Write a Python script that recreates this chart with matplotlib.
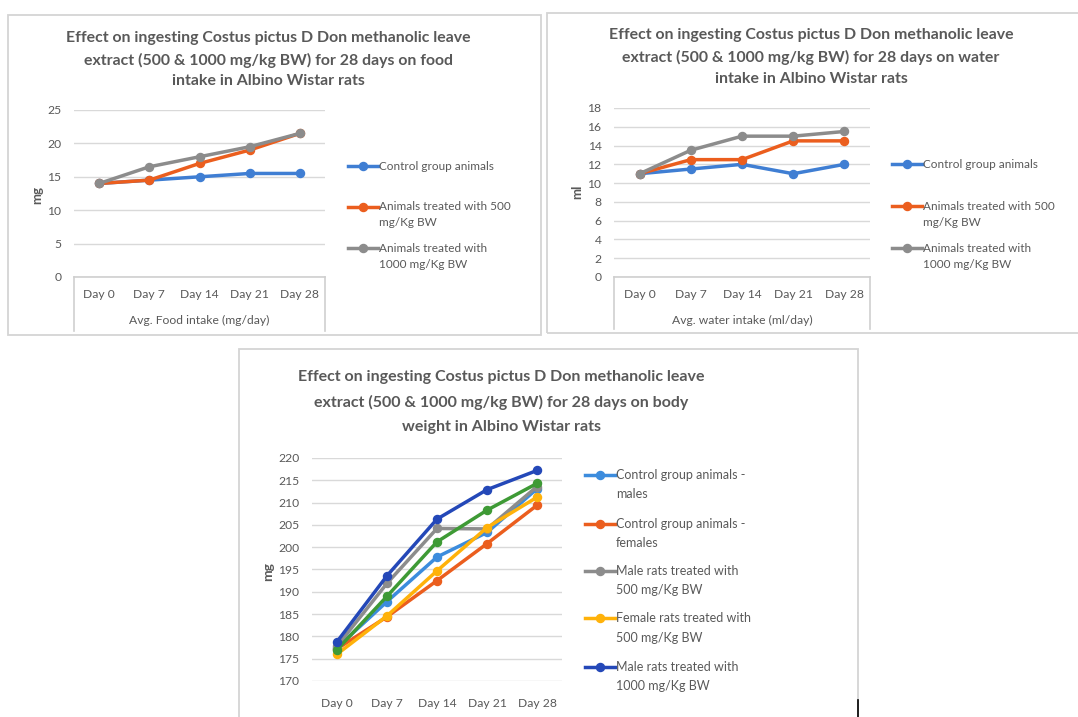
import matplotlib
matplotlib.use("Agg")
import matplotlib.pyplot as plt
from matplotlib.lines import Line2D
from matplotlib.patches import Rectangle

plt.rcParams['font.family'] = ['Lato', 'DejaVu Sans']

W, H = 1078, 717
TXT = '#595959'
GRID = '#D9D9D9'

days = ['Day 0', 'Day 7', 'Day 14', 'Day 21', 'Day 28']

# Average food intake (mg/day)
food_control = [14, 14.5, 15, 15.5, 15.5]
food_500 = [14, 14.5, 17, 19, 21.5]
food_1000 = [14, 16.5, 18, 19.5, 21.5]
food_ticks = [0, 5, 10, 15, 20, 25]

# Average water intake (ml/day)
water_control = [11, 11.5, 12, 11, 12]
water_500 = [11, 12.5, 12.5, 14.5, 14.5]
water_1000 = [11, 13.5, 15, 15, 15.5]
water_ticks = [0, 2, 4, 6, 8, 10, 12, 14, 16, 18]

# Body weight
bw_control_m = [177.5, 187.8, 197.8, 203.3, 213.1]
bw_control_f = [177.2, 184.4, 192.5, 200.8, 209.4]
bw_500_m = [177.8, 191.9, 204.2, 204.1, 213.6]
bw_500_f = [176.0, 184.6, 194.7, 204.4, 211.2]
bw_1000_m = [178.8, 193.6, 206.3, 212.9, 217.2]
bw_1000_f = [177.0, 189.0, 201.2, 208.3, 214.3]
bw_ticks = [170, 175, 180, 185, 190, 195, 200, 205, 210, 215, 220]

top_legend = ['Control group animals',
              'Animals treated with 500\nmg/Kg BW',
              'Animals treated with\n1000 mg/Kg BW']
bw_legend = ['Control group animals -\nmales',
             'Control group animals -\nfemales',
             'Male rats treated with\n500 mg/Kg BW',
             'Female rats treated with\n500 mg/Kg BW',
             'Male rats treated with\n1000 mg/Kg BW']

C_BLUE = '#3F7ED3'
C_ORANGE = '#EB5E1E'
C_GRAY = '#8C8C8C'
C_LBLUE = '#3C8CDD'
C_YELLOW = '#FFB20A'
C_DBLUE = '#2448B8'
C_GREEN = '#3E9A35'

fig = plt.figure(figsize=(W / 100, H / 100), dpi=100)
fig.patch.set_facecolor('white')


def fx(x):
    return x / W


def fy(y):
    return 1 - y / H


def frame(x0, y0, x1, y1):
    fig.add_artist(Rectangle((fx(x0), fy(y1)), fx(x1 - x0), y1 / H - y0 / H,
                             transform=fig.transFigure, fill=False,
                             edgecolor='#D4D4D4', linewidth=1.3, zorder=0))


def fline(xs, ys, **kw):
    fig.add_artist(Line2D([fx(v) for v in xs], [fy(v) for v in ys],
                          transform=fig.transFigure, **kw))


def title(lines, cx, ys, size):
    for s, y in zip(lines, ys):
        fig.text(fx(cx), fy(y), s, ha='center', va='center', fontsize=size,
                 fontweight='bold', color=TXT)


def make_axes(x0, y0, x1, y1, ymin, ymax, ticks):
    ax = fig.add_axes([fx(x0), fy(y1), fx(x1 - x0), (y1 - y0) / H])
    ax.set_xlim(-0.5, len(days) - 0.5)
    ax.set_ylim(ymin, ymax)
    ax.set_yticks(ticks)
    ax.set_xticks(range(len(days)))
    ax.set_xticklabels(days)
    for sp in ax.spines.values():
        sp.set_visible(False)
    ax.grid(axis='y', color=GRID, linewidth=1)
    ax.set_axisbelow(True)
    ax.tick_params(axis='both', length=0, labelsize=8.7, colors=TXT)
    ax.tick_params(axis='y', pad=9)
    ax.patch.set_alpha(0)
    return ax


def series(ax, vals, color, lw=2.5, ms=5.8):
    ax.plot(range(len(days)), vals, color=color, linewidth=lw, marker='o',
            markersize=ms, solid_capstyle='round', clip_on=False)


def legend(x0, x1, tx, entries, size=8.5, lw=2.5):
    for label, color, ys in entries:
        fline([x0, x1], [ys[0], ys[0]], color=color, linewidth=lw)
        fline([(x0 + x1) / 2], [ys[0]], color=color, marker='o',
              markersize=5.8, linestyle='none')
        for s, y in zip(label.split('\n'), ys):
            fig.text(fx(tx), fy(y), s, ha='left', va='center',
                     fontsize=size, color=TXT)


# ---------------- food intake ----------------
frame(8, 15, 541, 335)
title(['Effect on ingesting Costus pictus D Don methanolic leave',
       'extract (500 & 1000 mg/kg BW) for 28 days on food',
       'intake in Albino Wistar rats'], 268, [38, 60, 81], 11.4)
ax1 = make_axes(74, 110, 325, 277, 0, 25, food_ticks)
ax1.tick_params(axis='x', pad=9)
series(ax1, food_control, C_BLUE)
series(ax1, food_500, C_ORANGE)
series(ax1, food_1000, C_GRAY)
fline([74, 325], [277, 277], color='#CFCFCF', linewidth=1.2)
fline([74, 74], [277, 331], color='#CFCFCF', linewidth=1.2)
fline([325, 325], [277, 331], color='#CFCFCF', linewidth=1.2)
fig.text(fx(199), fy(320), 'Avg. Food intake (mg/day)', ha='center',
         va='center', fontsize=8.7, color=TXT)
fig.text(fx(37), fy(195), 'mg', rotation=90, ha='center', va='center',
         fontsize=9.5, fontweight='bold', color=TXT)
legend(348, 378, 379, [
    (top_legend[0], C_BLUE, [166]),
    (top_legend[1], C_ORANGE, [207, 223]),
    (top_legend[2], C_GRAY, [248, 265]),
])

# ---------------- water intake ----------------
frame(547, 13, 1090, 333)
title(['Effect on ingesting Costus pictus D Don methanolic leave',
       'extract (500 & 1000 mg/kg BW) for 28 days on water',
       'intake in Albino Wistar rats'], 811, [35, 57, 79], 11.4)
ax2 = make_axes(614, 108, 870, 277, 0, 18, water_ticks)
ax2.tick_params(axis='x', pad=9)
series(ax2, water_control, C_BLUE)
series(ax2, water_500, C_ORANGE)
series(ax2, water_1000, C_GRAY)
fline([614, 870], [277, 277], color='#CFCFCF', linewidth=1.2)
fline([614, 614], [277, 329], color='#CFCFCF', linewidth=1.2)
fline([870, 870], [277, 329], color='#CFCFCF', linewidth=1.2)
fig.text(fx(742), fy(320), 'Avg. water intake (ml/day)', ha='center',
         va='center', fontsize=8.7, color=TXT)
fig.text(fx(577), fy(192), 'ml', rotation=90, ha='center', va='center',
         fontsize=9.5, fontweight='bold', color=TXT)
legend(892, 922, 923, [
    (top_legend[0], C_BLUE, [164]),
    (top_legend[1], C_ORANGE, [206, 223]),
    (top_legend[2], C_GRAY, [248, 265]),
])

# ---------------- body weight ----------------
frame(239, 349, 858, 730)
title(['Effect on ingesting Costus pictus D Don methanolic leave',
       'extract (500 & 1000 mg/kg BW) for 28 days on body',
       'weight in Albino Wistar rats'], 501, [377, 402, 427], 11.5)
ax3 = make_axes(312, 458, 562, 681, 170, 220, bw_ticks)
ax3.tick_params(axis='x', pad=12)
series(ax3, bw_control_m, C_LBLUE)
series(ax3, bw_control_f, C_ORANGE)
series(ax3, bw_500_m, C_GRAY)
series(ax3, bw_500_f, C_YELLOW)
series(ax3, bw_1000_f, C_GREEN)
series(ax3, bw_1000_m, C_DBLUE)
fig.text(fx(268), fy(572), 'mg', rotation=90, ha='center', va='center',
         fontsize=10, fontweight='bold', color=TXT)
legend(585, 615, 616, [
    (bw_legend[0], C_LBLUE, [475, 494]),
    (bw_legend[1], C_ORANGE, [524, 543]),
    (bw_legend[2], C_GRAY, [571, 590]),
    (bw_legend[3], C_YELLOW, [618, 638]),
    (bw_legend[4], C_DBLUE, [667, 686]),
], size=9)
fline([858, 858], [700, 717], color='black', linewidth=1.2)

fig.savefig('out.png', dpi=100, facecolor='white')
